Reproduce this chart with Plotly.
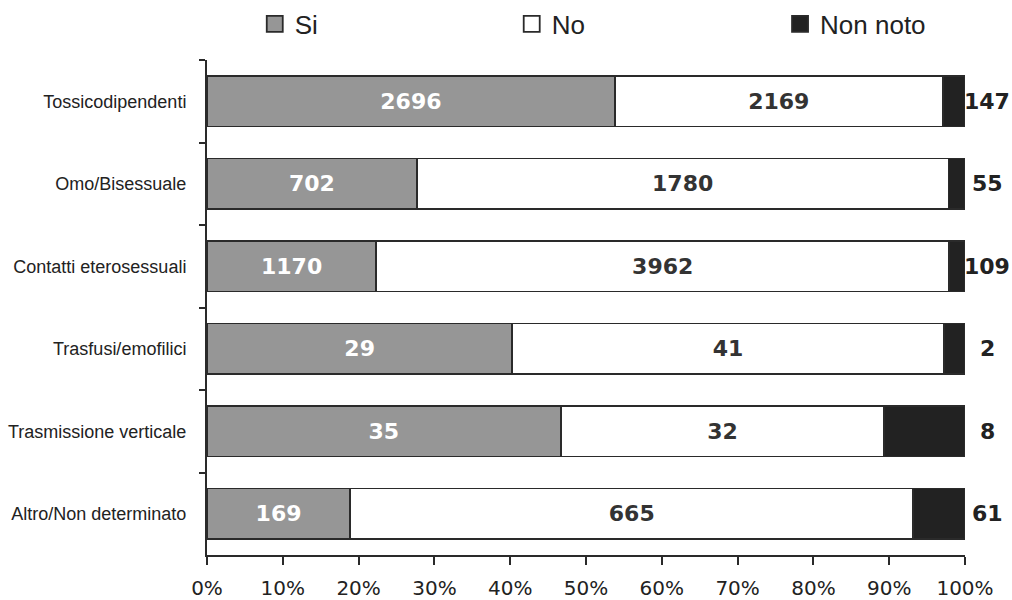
import plotly.graph_objects as go

categories = ["Tossicodipendenti", "Omo/Bisessuale", "Contatti eterosessuali",
              "Trasfusi/emofilici", "Trasmissione verticale", "Altro/Non determinato"]
si = [2696, 702, 1170, 29, 35, 169]
no = [2169, 1780, 3962, 41, 32, 665]
non_noto = [147, 55, 109, 2, 8, 61]
x_ticks = [0, 10, 20, 30, 40, 50, 60, 70, 80, 90, 100]

totals = [a + b + c for a, b, c in zip(si, no, non_noto)]


def pct(vals):
    return [100.0 * v / t for v, t in zip(vals, totals)]


line_col = "#2a2a2a"
label_font = "DejaVu Sans"
series = [
    ("Si", si, "#969696", "white", "legend"),
    ("No", no, "white", "#333333", "legend2"),
    ("Non noto", non_noto, "#222222", None, "legend3"),
]

fig = go.Figure()
for name, vals, col, txtcol, leg in series:
    fig.add_trace(go.Bar(
        y=categories, x=pct(vals), orientation="h", name=name, legendgroup=name,
        showlegend=False,
        marker=dict(color=col, line=dict(color=line_col, width=1.8)),
        text=[str(v) for v in vals] if txtcol else None,
        textposition="inside", insidetextanchor="middle",
        textfont=dict(family=label_font, size=22, color=txtcol or "white", weight="bold"),
        hoverinfo="skip"))
# legend-only entries with larger square swatches
for name, vals, col, txtcol, leg in series:
    fig.add_trace(go.Scatter(
        x=[None], y=[None], mode="markers", name=name, legendgroup=name, legend=leg,
        marker=dict(symbol="square", size=18, color=col, line=dict(color=line_col, width=1.8)),
        hoverinfo="skip"))

for cat, s, n, nn, v in zip(categories, pct(si), pct(no), pct(non_noto), non_noto):
    fig.add_annotation(x=s + n + nn, y=cat, text=str(v),
                       xanchor="center", xshift=22, showarrow=False,
                       font=dict(family=label_font, size=22, color="#222222", weight="bold"))

W, H = 1012, 600
leg_font = dict(family="Liberation Sans, Arial", size=26, color="#222222")
leg_common = dict(orientation="h", yref="container", y=1 - 24 / H, yanchor="middle",
                  xanchor="left", font=leg_font, bgcolor="rgba(0,0,0,0)", itemsizing="trace")

fig.update_layout(
    width=W, height=H,
    barmode="stack", bargap=0.39,
    paper_bgcolor="white", plot_bgcolor="white",
    margin=dict(l=207, r=47, t=60, b=45, autoexpand=False),
    showlegend=True,
    legend=dict(x=0.063, **leg_common),
    legend2=dict(x=0.402, **leg_common),
    legend3=dict(x=0.756, **leg_common),
    xaxis=dict(range=[0, 100], tickvals=x_ticks, ticktext=[f"{t}%" for t in x_ticks],
               showgrid=False, zeroline=False, showline=True, linecolor=line_col, linewidth=2,
               ticks="outside", ticklen=8, tickwidth=2, tickcolor=line_col,
               tickfont=dict(family="DejaVu Sans", size=20, color="#222222"),
               ticklabelstandoff=6, automargin=False),
    yaxis=dict(autorange="reversed", showgrid=False, zeroline=False, showline=True,
               linecolor=line_col, linewidth=2, ticks="outside", ticklen=6, tickwidth=2,
               tickcolor=line_col, tickson="boundaries",
               tickfont=dict(family="Liberation Sans, Arial", size=18, color="#222222"),
               ticklabelstandoff=15, automargin=False),
)
fig.write_html("out.html", config={"displayModeBar": False},
               post_script="document.body.style.margin='0px';"
                           "document.documentElement.style.overflow='hidden';")
